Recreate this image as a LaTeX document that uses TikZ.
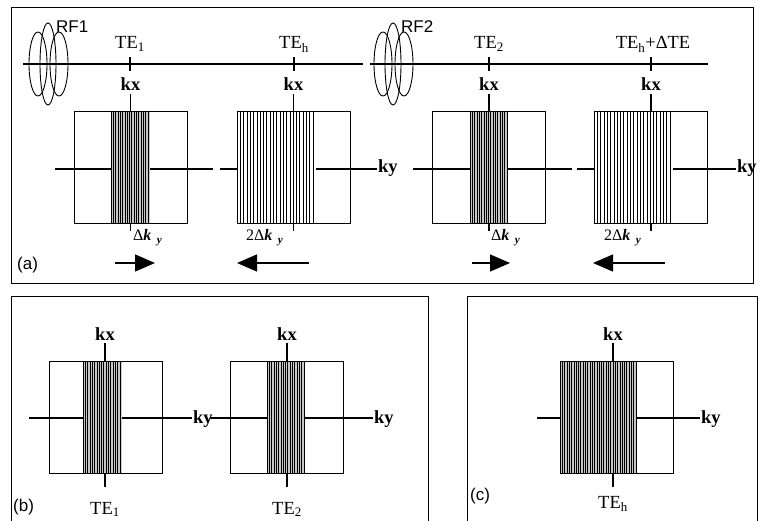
\documentclass[tikz,border=0pt]{standalone}
\usepackage{fontspec}
\setmainfont{Liberation Serif}
\setsansfont{Liberation Sans}
\usetikzlibrary{arrows.meta}

% vertical line hatching of a k-space band: left, right, top, bottom, step, fill
\newcommand{\hatch}[6]{%
  \fill[#6] (#1,#3) rectangle (#2,#4);
  \pgfmathsetmacro{\hnext}{#1+#5}
  \foreach \hx in {#1,\hnext,...,#2} \draw[hline] (\hx,#3) -- (\hx,#4);
}
\newcommand{\dky}{Δ\textit{\textbf{k}}\,\,\textsubscript{\textit{\textbf{y}}}}

\begin{document}
\begin{tikzpicture}[x=1pt, y=-1pt,
  lbl/.style={font=\fontsize{18.5}{20}\selectfont, inner sep=1pt, anchor=base},
  bld/.style={lbl, font=\fontsize{18.5}{20}\selectfont\bfseries},
  kxl/.style={bld, inner sep=2.5pt},
  dk/.style={font=\fontsize{16}{18}\selectfont, inner sep=0pt, anchor=base west},
  tag/.style={font=\sffamily\fontsize{17}{19}\selectfont, inner sep=0pt, anchor=base west},
  kbox/.style={draw, line width=0.9pt, minimum width=113pt, minimum height=112pt, inner sep=0pt},
  ax/.style={line width=1.3pt},
  hline/.style={line width=0.5pt},
  rf/.style={line width=0.9pt},
  mv/.style={line width=1.3pt, -{Triangle[length=20pt,width=17pt]}},
  frame/.style={line width=0.8pt}
]
  \useasboundingbox (0,0) rectangle (760,521);

  % panel frames
  \draw[frame] (11,7) rectangle (753,283);
  \draw[frame] (11,521) -- (11,296) -- (428,296) -- (428,521);
  \draw[frame] (467,521) -- (467,296) -- (757,296) -- (757,521);

  % ---------------- (a) sequence timeline ----------------
  \coordinate (T1s) at (23,64);  \coordinate (T1e) at (363,64);
  \coordinate (T2s) at (370,64); \coordinate (T2e) at (708,64);
  \draw[ax] (T1s) -- (T1e);
  \draw[ax] (T2s) -- (T2e);
  \foreach \t in {130,294,489,651} \draw[ax] (\t,57) -- (\t,71);

  % RF pulses
  \draw[rf] (38,64) ellipse [x radius=9pt, y radius=32pt];
  \draw[rf] (48,64) ellipse [x radius=8pt, y radius=41pt];
  \draw[rf] (59,64) ellipse [x radius=9pt, y radius=32pt];
  \draw[rf] (383,64) ellipse [x radius=9pt, y radius=32pt];
  \draw[rf] (393,64) ellipse [x radius=8pt, y radius=41pt];
  \draw[rf] (404,64) ellipse [x radius=9pt, y radius=32pt];
  \node[tag] (rf1) at (56,33) {RF1};
  \node[tag] (rf2) at (401,33) {RF2};

  \node[lbl] (te1) at (130,49) {TE\textsubscript{1}};
  \node[lbl] (teh) at (294,49) {TE\textsubscript{h}};
  \node[lbl] (te2) at (489,49) {TE\textsubscript{2}};
  \node[lbl] (tehd) at (653,49) {TE\textsubscript{h}+ΔTE};

  % kx / ky labels
  \node[kxl] (kx1) at (130.5,91) {kx};
  \node[kxl] (kx2) at (293.5,91) {kx};
  \node[kxl] (kx3) at (489,91) {kx};
  \node[kxl] (kx4) at (651,91) {kx};
  \node[bld, anchor=base west] (kyA) at (377,173) {ky};
  \node[bld, anchor=base west] (kyB) at (736,173) {ky};

  % ky axes (under the bands)
  \coordinate (K1s) at (55,169);  \coordinate (K1e) at (213,169);
  \coordinate (K2s) at (220,169);
  \coordinate (K3s) at (413,169); \coordinate (K3e) at (572,169);
  \coordinate (K4s) at (577,169);
  \draw[ax] (K1s) -- (K1e);
  \draw[ax] (K2s) -- (K2s -| kyA.west);
  \draw[ax] (K3s) -- (K3e);
  \draw[ax] (K4s) -- (K4s -| kyB.west);

  % sampled bands
  \hatch{111}{150}{111}{223}{2.3}{gray!45}
  \hatch{237}{316}{111}{223}{3.3}{white}
  \hatch{470}{508}{111}{223}{2.3}{gray!45}
  \hatch{594}{673}{111}{223}{3.3}{white}

  % k-space boxes
  \node[kbox] (B1) at (130.5,167) {};
  \node[kbox] (B2) at (293.5,167) {};
  \node[kbox] (B3) at (489,167) {};
  \node[kbox] (B4) at (651,167) {};
  \foreach \b in {1,2,3,4} {
    \draw[ax] (B\b.north) -- (kx\b.south);
    \draw[ax] (B\b.south) -- ++(0,8);
  }

  \node[dk] (dk1) at (133,241) {\dky};
  \node[dk] (dk2) at (246,241) {2\dky};
  \node[dk] (dk3) at (491,241) {\dky};
  \node[dk] (dk4) at (604,241) {2\dky};

  % readout directions
  \coordinate (A1s) at (115,263); \coordinate (A1e) at (155,263);
  \coordinate (A2s) at (309,263); \coordinate (A2e) at (237,263);
  \coordinate (A3s) at (472,263); \coordinate (A3e) at (510,263);
  \coordinate (A4s) at (665,263); \coordinate (A4e) at (593,263);
  \foreach \a in {1,2,3,4} \draw[mv] (A\a s) -- (A\a e);

  \node[tag] (taga) at (17,270) {(a)};

  % ---------------- (b) and (c) ----------------
  \node[bld, inner sep=3pt] (kx5) at (105,340) {kx};
  \node[bld, inner sep=3pt] (kx6) at (287,340) {kx};
  \node[bld, inner sep=3pt] (kx7) at (613,340) {kx};
  \node[bld, anchor=base west] (kyC) at (192,423) {ky};
  \node[bld, anchor=base west] (kyD) at (373,423) {ky};
  \node[bld, anchor=base west] (kyE) at (700,423) {ky};
  \coordinate (K5s) at (29,418);
  \coordinate (K6s) at (210,418);
  \coordinate (K7s) at (537,418);
  \draw[ax] (K5s) -- (K5s -| kyC.west);
  \draw[ax] (K6s) -- (K6s -| kyD.west);
  \draw[ax] (K7s) -- (K7s -| kyE.west);

  \hatch{83}{122}{361}{473}{2.3}{gray!45}
  \hatch{267}{305}{361}{473}{2.3}{gray!45}
  \hatch{560}{636}{361}{473}{2.3}{gray!45}

  \node[kbox] (B5) at (105.5,417) {};
  \node[kbox] (B6) at (286.5,417) {};
  \node[kbox] (B7) at (616.5,417) {};

  \node[lbl] (te5) at (105,514) {TE\textsubscript{1}};
  \node[lbl] (te6) at (287,514) {TE\textsubscript{2}};
  \node[lbl] (te7) at (613,508) {TE\textsubscript{h}};
  \foreach \b in {5,6,7} {
    \draw[ax] (kx\b.south) -- (kx\b.south |- B\b.north);
    \draw[ax] (kx\b.south |- B\b.south) -- ++(0,14);
  }

  \node[tag] (tagb) at (13,511) {(b)};
  \node[tag] (tagc) at (470,500) {(c)};
\end{tikzpicture}
\end{document}
